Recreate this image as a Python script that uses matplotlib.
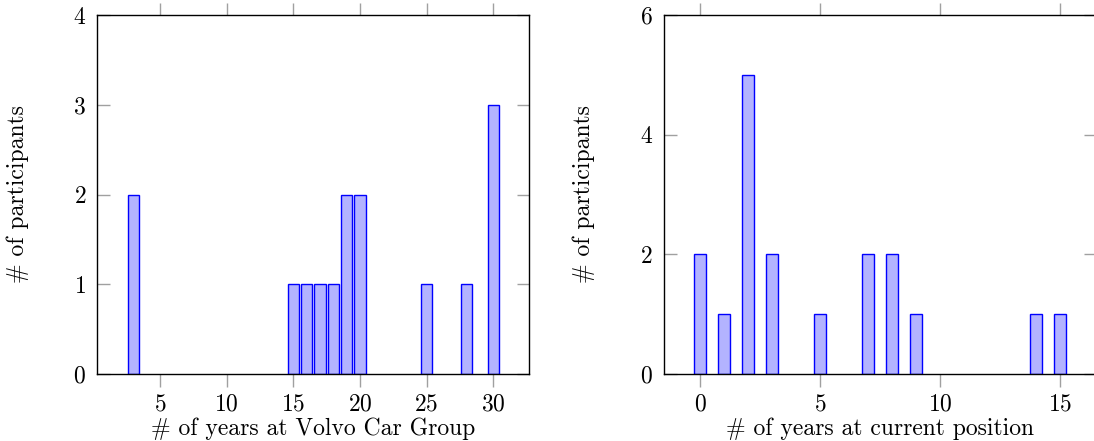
import matplotlib
matplotlib.use("Agg")
import matplotlib.pyplot as plt

# years at Volvo Car Group -> number of participants
volvo_years = [3, 15, 16, 17, 18, 19, 20, 25, 28, 30]
volvo_counts = [2, 1, 1, 1, 1, 2, 2, 1, 1, 3]

# years at current position -> number of participants
position_years = [0, 1, 2, 3, 5, 7, 8, 9, 14, 15]
position_counts = [2, 1, 5, 2, 1, 2, 2, 1, 1, 1]

volvo_xticks = [5, 10, 15, 20, 25, 30]
volvo_yticks = [0, 1, 2, 3, 4]
position_xticks = [0, 5, 10, 15]
position_yticks = [0, 2, 4, 6]

plt.rcParams['font.family'] = ['cmr10', 'DejaVu Serif']
plt.rcParams['axes.formatter.use_mathtext'] = True
plt.rcParams['mathtext.fontset'] = 'cm'

FS = 17
fill = (0.7, 0.7, 1.0)
edge = (0.0, 0.0, 1.0)

fig = plt.figure(figsize=(10.94, 4.41), dpi=100)
W, H = 1094, 441
AW, AH = 432, 359
ax1 = fig.add_axes([97.3 / W, 1 - 374 / H, AW / W, AH / H])
ax2 = fig.add_axes([664 / W, 1 - 374 / H, AW / W, AH / H])


def style(ax, xlim, ylim, xticks, yticks, xlabel):
    ax.set_xlim(*xlim)
    ax.set_ylim(*ylim)
    ax.set_xticks(xticks)
    ax.set_yticks(yticks)
    ax.set_xlabel(xlabel, fontsize=FS, va='center')
    ax.xaxis.set_label_coords(0.5, -55 / AH)
    ax.set_ylabel('# of participants', fontsize=FS, va='center')
    ax.yaxis.set_label_coords(-80 / AW, 0.5)
    ax.tick_params(axis='x', direction='out', length=9, width=1, color='#a0a0a0',
                   top=True, labelsize=FS, pad=5)
    ax.tick_params(axis='y', direction='in', length=9, width=1, color='#a0a0a0',
                   right=True, labelsize=FS, pad=8)
    for s in ax.spines.values():
        s.set_linewidth(1.0)


# same bar width in pixels on both panels
ax1.bar(volvo_years, volvo_counts, width=0.87, color=fill, edgecolor=edge, linewidth=1.0)
style(ax1, (0.3, 32.7), (0, 4), volvo_xticks, volvo_yticks, '# of years at Volvo Car Group')

ax2.bar(position_years, position_counts, width=0.485, color=fill, edgecolor=edge, linewidth=1.0)
style(ax2, (-1.5, 16.5), (0, 6), position_xticks, position_yticks, '# of years at current position')

fig.savefig('out.png', dpi=100)
